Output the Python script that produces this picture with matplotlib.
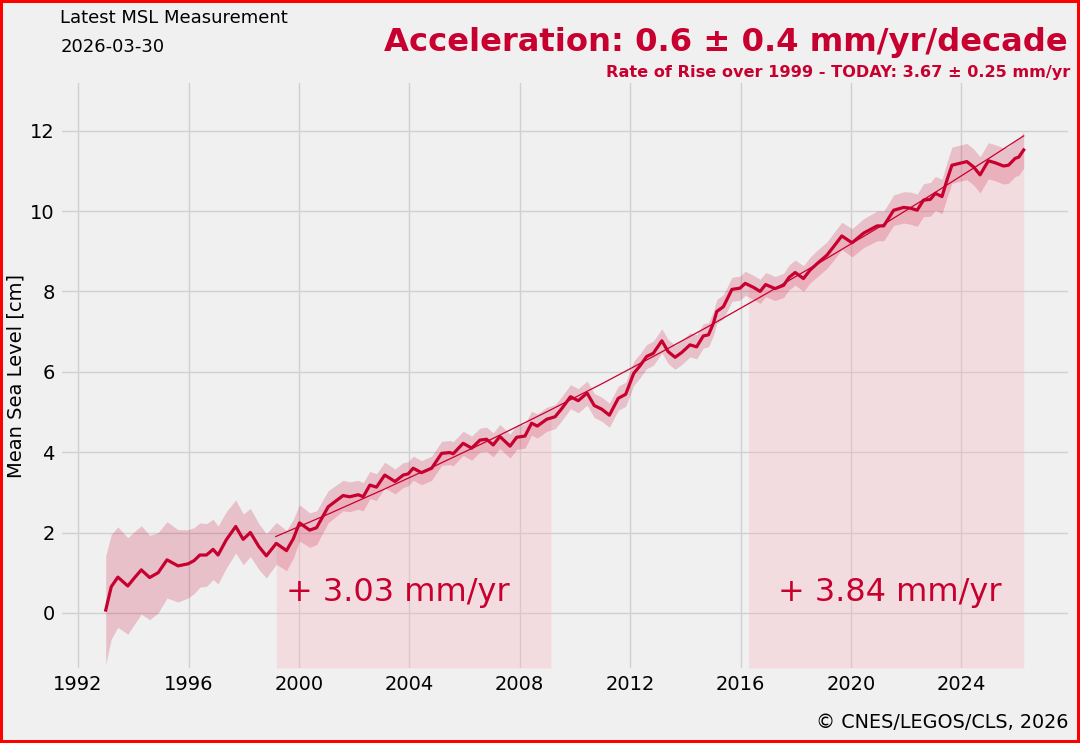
#!/usr/bin/env python3
"""Global mean sea level from satellite altimetry, with trend and rates"""
import numpy as np
import matplotlib
matplotlib.use('Agg')
import matplotlib.pyplot as plt

# GMSL record (decimal year, cm)
years = [1993.0, 1993.2, 1993.44, 1993.8, 1994.05, 1994.29, 1994.59, 1994.9,
         1995.22, 1995.62, 1995.98, 1996.2, 1996.41, 1996.65, 1996.89, 1997.07,
         1997.37, 1997.71, 1997.98, 1998.24, 1998.55, 1998.82, 1999.18, 1999.55,
         1999.8, 2000.02, 2000.39, 2000.64, 2001.06, 2001.6, 2001.84, 2002.15,
         2002.33, 2002.57, 2002.81, 2003.11, 2003.48, 2003.78, 2003.96, 2004.14,
         2004.44, 2004.81, 2005.17, 2005.47, 2005.59, 2005.95, 2006.26, 2006.56,
         2006.8, 2007.04, 2007.28, 2007.65, 2007.89, 2008.19, 2008.43, 2008.64,
         2008.98, 2009.28, 2009.52, 2009.84, 2010.12, 2010.44, 2010.7, 2010.97,
         2011.25, 2011.57, 2011.84, 2012.13, 2012.36, 2012.6, 2012.84, 2013.15,
         2013.38, 2013.63, 2013.87, 2014.17, 2014.41, 2014.65, 2014.84, 2015.02,
         2015.14, 2015.38, 2015.69, 2015.98, 2016.17, 2016.47, 2016.71, 2016.91,
         2017.25, 2017.56, 2017.76, 2017.98, 2018.28, 2018.52, 2018.79, 2019.13,
         2019.37, 2019.67, 2020.04, 2020.46, 2020.95, 2021.19, 2021.55, 2021.91,
         2022.16, 2022.4, 2022.63, 2022.88, 2023.06, 2023.3, 2023.48, 2023.66,
         2023.96, 2024.2, 2024.44, 2024.68, 2024.98, 2025.23, 2025.53, 2025.71,
         2025.95, 2026.08, 2026.26]
msl = [0.07, 0.65, 0.89, 0.67, 0.88, 1.07, 0.88, 1.0,
       1.32, 1.17, 1.22, 1.3, 1.44, 1.44, 1.58, 1.44,
       1.82, 2.15, 1.83, 2.0, 1.65, 1.42, 1.73, 1.55,
       1.85, 2.24, 2.06, 2.12, 2.64, 2.92, 2.89, 2.94,
       2.89, 3.18, 3.13, 3.43, 3.27, 3.43, 3.46, 3.6,
       3.49, 3.6, 3.97, 3.99, 3.96, 4.22, 4.1, 4.3,
       4.32, 4.18, 4.39, 4.15, 4.37, 4.4, 4.72, 4.65,
       4.82, 4.88, 5.08, 5.38, 5.28, 5.47, 5.16, 5.07,
       4.92, 5.34, 5.44, 5.96, 6.15, 6.38, 6.46, 6.77,
       6.5, 6.36, 6.48, 6.67, 6.62, 6.89, 6.92, 7.21,
       7.5, 7.62, 8.05, 8.08, 8.2, 8.1, 8.0, 8.17,
       8.07, 8.15, 8.35, 8.47, 8.32, 8.53, 8.7, 8.9,
       9.11, 9.38, 9.21, 9.45, 9.63, 9.63, 10.02, 10.09,
       10.07, 10.02, 10.27, 10.29, 10.44, 10.36, 10.77, 11.14,
       11.19, 11.23, 11.1, 10.9, 11.25, 11.2, 11.12, 11.14,
       11.31, 11.34, 11.52]
# uncertainty half-width (cm)
err = [1.35, 1.3, 1.25, 1.2, 1.15, 1.1, 1.05, 1.0,
       0.95, 0.9, 0.85, 0.82, 0.8, 0.78, 0.75, 0.72,
       0.7, 0.66, 0.63, 0.6, 0.57, 0.55, 0.52, 0.5,
       0.48, 0.45, 0.43, 0.42, 0.4, 0.38, 0.37, 0.36,
       0.35, 0.34, 0.33, 0.32, 0.31, 0.31, 0.3, 0.3,
       0.3, 0.3, 0.3, 0.3, 0.3, 0.3, 0.3, 0.3,
       0.3, 0.3, 0.3, 0.3, 0.3, 0.3, 0.3, 0.3,
       0.3, 0.3, 0.3, 0.3, 0.3, 0.3, 0.3, 0.3,
       0.3, 0.3, 0.3, 0.3, 0.3, 0.3, 0.3, 0.3,
       0.3, 0.3, 0.3, 0.3, 0.3, 0.3, 0.3, 0.3,
       0.3, 0.3, 0.3, 0.3, 0.3, 0.3, 0.3, 0.3,
       0.3, 0.3, 0.31, 0.31, 0.32, 0.32, 0.33, 0.33,
       0.34, 0.34, 0.35, 0.36, 0.37, 0.37, 0.38, 0.39,
       0.4, 0.4, 0.41, 0.42, 0.42, 0.43, 0.44, 0.45,
       0.45, 0.45, 0.45, 0.45, 0.45, 0.45, 0.45, 0.45,
       0.45, 0.45, 0.45]

# quadratic trend 1999 - today
trend_years = [1999.16, 2001, 2003, 2005, 2007, 2009, 2011, 2013,
               2015, 2017, 2019, 2021, 2023, 2025, 2026.26]
trend_vals = [1.90, 2.44, 3.05, 3.68, 4.33, 5.01, 5.71, 6.44,
              7.19, 7.97, 8.77, 9.59, 10.44, 11.31, 11.87]

# periods with local rates
periods = [(1999.16, 2009.13), (2016.29, 2026.28)]
rate_labels = ['+ 3.03 mm/yr', '+ 3.84 mm/yr']
label_pos = [(2003.6, 0.5), (2021.4, 0.5)]

RED = '#c8002f'
BG = '#f0f0f0'
YMIN, YMAX = -1.37, 13.18

t = np.array(years)
v = np.array(msl)
e = np.array(err)

fig = plt.figure(figsize=(10.8, 7.43), dpi=100, facecolor=BG)
fig.patch.set_edgecolor('red')
fig.patch.set_linewidth(4)
ax = fig.add_axes([0.057, 0.101, 0.932, 0.787])
ax.set_facecolor(BG)

# shaded periods under the curve
for (a, b) in periods:
    m = (t >= a - 0.2) & (t <= b + 0.2)
    xs = np.clip(t[m], a, b)
    ax.fill_between(xs, YMIN, v[m], color='#fdb1be', alpha=0.3, lw=0, zorder=1)

ax.fill_between(t, v - e, v + e, color=RED, alpha=0.2, lw=0, zorder=2)
ax.plot(trend_years, trend_vals, color=RED, lw=0.9, zorder=3)
ax.plot(t, v, color=RED, lw=2.3, solid_joinstyle='round', zorder=4)

for lab, (x, y) in zip(rate_labels, label_pos):
    ax.text(x, y, lab, color=RED, fontsize=23, ha='center', va='center', zorder=5)

ax.set_xlim(1991.4, 2027.87)
ax.set_ylim(YMIN, YMAX)
ax.set_xticks(range(1992, 2025, 4))
ax.set_yticks(range(0, 13, 2))
ax.grid(True, color='#d0d0d0', lw=1)
ax.set_axisbelow(True)
for s in ax.spines.values():
    s.set_visible(False)
ax.tick_params(length=0, labelsize=14, pad=5)
ax.set_ylabel('Mean Sea Level [cm]', fontsize=14, labelpad=3)

fig.text(0.056, 0.976, 'Latest MSL Measurement', fontsize=13, va='center')
fig.text(0.056, 0.937, '2026-03-30', fontsize=13, va='center')
fig.text(0.989, 0.943, 'Acceleration: 0.6 \u00b1 0.4 mm/yr/decade', fontsize=23.2,
         fontweight='bold', color=RED, ha='right', va='center')
fig.text(0.991, 0.903, 'Rate of Rise over 1999 - TODAY: 3.67 \u00b1 0.25 mm/yr',
         fontsize=11.6, fontweight='bold', color=RED, ha='right', va='center')
fig.text(0.989, 0.028, '\u00a9 CNES/LEGOS/CLS, 2026', fontsize=13.8, ha='right', va='center')

fig.savefig('out.png', dpi=100, facecolor=BG, edgecolor='red')
